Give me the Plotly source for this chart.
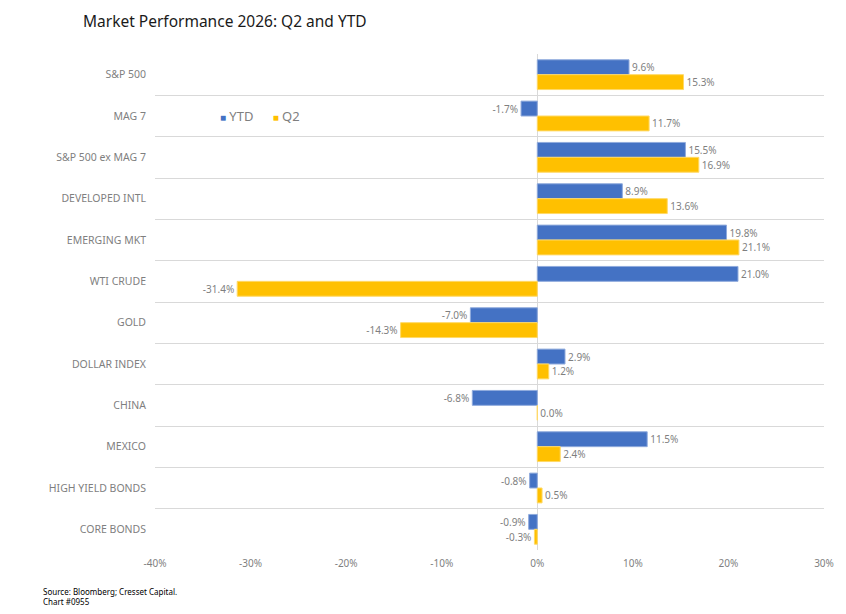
import plotly.graph_objects as go

categories = ["S&P 500", "MAG 7", "S&P 500 ex MAG 7", "DEVELOPED INTL", "EMERGING MKT",
              "WTI CRUDE", "GOLD", "DOLLAR INDEX", "CHINA", "MEXICO",
              "HIGH YIELD BONDS", "CORE BONDS"]
ytd = [9.6, -1.7, 15.5, 8.9, 19.8, 21.0, -7.0, 2.9, -6.8, 11.5, -0.8, -0.9]
q2 = [15.3, 11.7, 16.9, 13.6, 21.1, -31.4, -14.3, 1.2, 0.0, 2.4, 0.5, -0.3]
x_ticks = [-40, -30, -20, -10, 0, 10, 20, 30]

BLUE = "#4472C4"
YELLOW = "#FFC000"
pos = list(range(len(categories)))
bounds = [i - 0.5 for i in range(len(categories) + 1)]

FONT = "Noto Sans"
GRAY = "#7f7f7f"

fig = go.Figure()
fig.add_trace(go.Bar(
    name="YTD", y=pos, x=ytd, orientation="h", showlegend=False,
    marker=dict(color=BLUE, line=dict(color="#8FAADC", width=1)),
    text=[f"{v:.1f}%" for v in ytd], textposition="outside",
    outsidetextfont=dict(family=FONT, size=10, color=GRAY),
    cliponaxis=False,
))
fig.add_trace(go.Bar(
    name="Q2", y=pos, x=q2, orientation="h", showlegend=False,
    marker=dict(color=YELLOW, line=dict(color="#FFD966", width=1)),
    text=[f"{v:.1f}%" for v in q2], textposition="outside",
    outsidetextfont=dict(family=FONT, size=10, color=GRAY),
    cliponaxis=False,
))
# legend entries: small coloured square glyph followed by the series name
for name, col, lg in [("YTD", BLUE, "legend"), ("Q2", YELLOW, "legend2")]:
    fig.add_trace(go.Scatter(
        x=[None], y=[None], mode="markers", marker=dict(color="rgba(0,0,0,0)", size=1),
        name=f"<span style='color:{col};font-size:10px'>■</span> {name}", legend=lg,
    ))

PW = 672
leg_common = dict(orientation="h", y=1 - (116 - 54)/496, xanchor="left", yanchor="middle",
                  font=dict(family=FONT, size=13, color=GRAY), bgcolor="rgba(0,0,0,0)",
                  itemwidth=30)

fig.update_layout(
    width=846, height=614,
    margin=dict(l=155, r=19, t=54, b=64),
    paper_bgcolor="white", plot_bgcolor="white",
    barmode="group", bargap=0.28, bargroupgap=0,
    title=dict(text="Market Performance 2026: Q2 and YTD", x=83/846, xanchor="left",
               y=1 - 22/614, yanchor="middle",
               font=dict(family=FONT, size=15.5, color="#1a1a1a")),
    legend=dict(x=(180 - 155)/PW, **leg_common),
    legend2=dict(x=(233 - 155)/PW, **leg_common),
    font=dict(family=FONT, color=GRAY),
    xaxis=dict(range=[-40, 30], tickvals=x_ticks, ticktext=[f"{t}%" for t in x_ticks],
               showgrid=False, zeroline=True, zerolinecolor="#D9D9D9", zerolinewidth=1,
               showline=False, ticks="", ticklabelstandoff=6,
               tickfont=dict(family=FONT, size=10, color=GRAY)),
    yaxis=dict(range=[len(categories) - 0.5, -0.5], tickvals=pos, ticktext=categories,
               showgrid=False, zeroline=False, showline=False, ticks="",
               ticklabelstandoff=8,
               tickfont=dict(family=FONT, size=10.5, color=GRAY),
               minor=dict(tickvals=bounds, showgrid=True, gridcolor="#D9D9D9", gridwidth=1, ticks="")),
    annotations=[
        dict(text="Source: Bloomberg; Cresset Capital.<br>Chart #0955", xref="paper", yref="paper",
             x=-115/PW, y=-34/496, xanchor="left", yanchor="top", align="left", showarrow=False,
             font=dict(family=FONT, size=8, color="#000000")),
    ],
)

fig.write_html("out.html")
